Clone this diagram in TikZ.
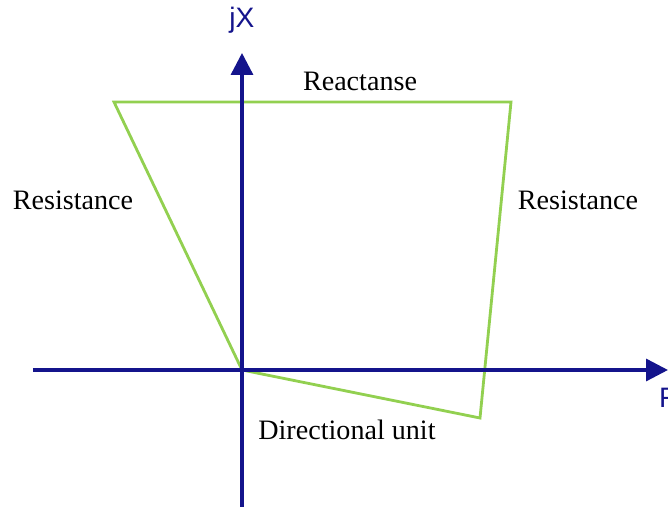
\documentclass[tikz,border=0pt]{standalone}
\usepackage{fontspec}
\setmainfont{Liberation Serif}
\newfontfamily\axisfont{Liberation Sans}
\usepackage{xcolor}
\usetikzlibrary{positioning, arrows.meta}

\definecolor{axisblue}{RGB}{20,20,140}
\definecolor{zonegreen}{RGB}{146,208,80}

\begin{document}
\begin{tikzpicture}[
    font=\fontsize{16}{19}\selectfont,
    axis/.style={-{Triangle[length=4.4mm, width=4.4mm]}, draw=axisblue, line width=1.9pt},
    zone/.style={draw=zonegreen, line width=1.6pt, line join=miter},
    axlabel/.style={text=axisblue, font=\axisfont\fontsize{16}{19}\selectfont},
    lbl/.style={inner sep=0pt}
]
\useasboundingbox (-4.84,-2.74) rectangle (8.52,7.40);

% Axes ends
\coordinate (xstart) at (-4.18, 0);
\coordinate (xend)   at (8.52, 0);
\coordinate (ystart) at (0, -2.74);
\coordinate (yend)   at (0, 6.34);

% Zone corners
\coordinate (o)  at (0, 0);
\coordinate (tl) at (-2.56, 5.36);
\coordinate (tr) at (5.38, 5.36);
\coordinate (br) at (4.76, -0.96);

\draw[zone] (o) -- (tl) -- (tr) -- (br) -- cycle;

\draw[axis] (xstart) -- (xend);
\draw[axis] (ystart) -- (yend);

% Axis labels
\node[axlabel] (jx) at (0, 7.0) {jX};
\node[axlabel, anchor=west] (r) at (8.22, -0.56) {R};

% Zone labels
\node[lbl] (react) at (2.36, 5.78) {Reactanse};
\node[lbl] (resl)  at (-3.38, 3.40) {Resistance};
\node[lbl] (resr)  at (6.72, 3.40) {Resistance};
\node[lbl] (dir)   at (2.10, -1.20) {Directional unit};

\end{tikzpicture}
\end{document}
